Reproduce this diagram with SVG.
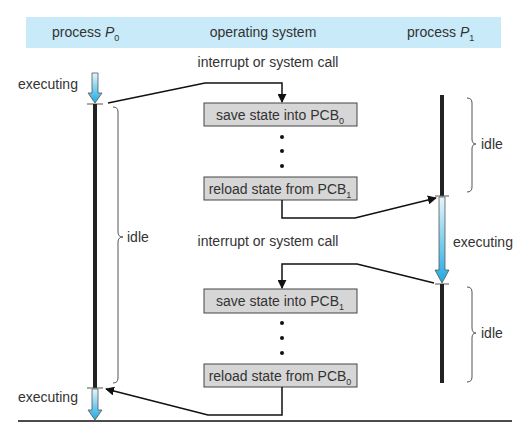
<svg xmlns="http://www.w3.org/2000/svg" width="532" height="434" viewBox="0 0 532 434">
<defs>
<linearGradient id="blue" x1="0" y1="0" x2="0" y2="1">
<stop offset="0" stop-color="#e4f6fd"/>
<stop offset="1" stop-color="#1fa9e1"/>
</linearGradient>
<marker id="ah" viewBox="0 0 10 10" refX="9" refY="5" markerWidth="9" markerHeight="9" markerUnits="userSpaceOnUse" orient="auto">
<path d="M0,0 L10,5 L0,10 z" fill="#111"/>
</marker>
</defs>
<style>
text{font-family:"Liberation Sans",Arial,sans-serif;font-size:14px;fill:#333}
.box{fill:#d6d6d6;stroke:#444;stroke-width:1}
.conn{fill:none;stroke:#111;stroke-width:1.5;marker-end:url(#ah)}
.tl{stroke:#222;stroke-width:4}
.tick{stroke:#555;stroke-width:1}
.brace{fill:none;stroke:#555;stroke-width:1}
.exec{fill:url(#blue);stroke:#555;stroke-width:0.8}
.dot{fill:#111}
</style>
<rect width="532" height="434" fill="#fff"/>
<rect x="26" y="17" width="475" height="31" fill="#c8eaf9"/>
<g id="headers">
<text x="52" y="37">process <tspan font-style="italic">P</tspan><tspan font-size="9" dy="4">0</tspan></text>
<text x="263" y="37" text-anchor="middle">operating system</text>
<text x="407" y="37">process <tspan font-style="italic">P</tspan><tspan font-size="9" dy="4">1</tspan></text>
</g>
<g id="p0">
<text x="18" y="89">executing</text>
<path class="exec" d="M92,73 L98,73 L98,93 L102,93 L95,103 L88,93 L92,93 z"/>
<line class="tick" x1="87" y1="104" x2="103" y2="104"/>
<line class="tl" x1="95" y1="104" x2="95" y2="388"/>
<line class="tick" x1="87" y1="388" x2="103" y2="388"/>
<path class="exec" d="M92,389 L98,389 L98,410 L102,410 L95,420 L88,410 L92,410 z"/>
<text x="18" y="402">executing</text>
<path class="brace" d="M113,107 Q118,107 118,112 L118,232 Q118,237 123,237 Q118,237 118,242 L118,378 Q118,383 113,383"/>
<text x="127" y="242">idle</text>
</g>
<g id="p1">
<line class="tl" x1="442" y1="95" x2="442" y2="196"/>
<line class="tick" x1="435" y1="196" x2="449" y2="196"/>
<path class="exec" d="M439,197 L445,197 L445,270 L449,270 L442,283 L435,270 L439,270 z"/>
<line class="tick" x1="435" y1="284" x2="449" y2="284"/>
<line class="tl" x1="442" y1="284" x2="442" y2="383"/>
<path class="brace" d="M467,98 Q472,98 472,103 L472,139 Q472,144 476,144 Q472,144 472,149 L472,187 Q472,192 467,192"/>
<text x="481" y="149">idle</text>
<text x="453" y="247">executing</text>
<path class="brace" d="M467,287 Q472,287 472,292 L472,328 Q472,333 476,333 Q472,333 472,338 L472,377 Q472,382 467,382"/>
<text x="481" y="338">idle</text>
</g>
<g id="os">
<text x="268" y="67" text-anchor="middle">interrupt or system call</text>
<g id="save0"><rect class="box" x="204" y="103" width="153" height="23"/><text x="280" y="120" text-anchor="middle">save state into PCB<tspan font-size="9" dy="4">0</tspan></text></g>
<circle class="dot" cx="282" cy="137" r="2"/><circle class="dot" cx="282" cy="151" r="2"/><circle class="dot" cx="282" cy="166" r="2"/>
<g id="reload1"><rect class="box" x="204" y="177" width="153" height="23"/><text x="280" y="194" text-anchor="middle">reload state from PCB<tspan font-size="9" dy="4">1</tspan></text></g>
<text x="268" y="246" text-anchor="middle">interrupt or system call</text>
<g id="save1"><rect class="box" x="204" y="289" width="153" height="24"/><text x="280" y="306" text-anchor="middle">save state into PCB<tspan font-size="9" dy="4">1</tspan></text></g>
<circle class="dot" cx="282" cy="323" r="2"/><circle class="dot" cx="282" cy="338" r="2"/><circle class="dot" cx="282" cy="353" r="2"/>
<g id="reload0"><rect class="box" x="204" y="364" width="153" height="23"/><text x="280" y="381" text-anchor="middle">reload state from PCB<tspan font-size="9" dy="4">0</tspan></text></g>
</g>
<g id="connectors">
<polyline class="conn" points="108,103 205,83 282,83 282,102"/>
<polyline class="conn" points="282,200 282,218 355,218 436,198"/>
<polyline class="conn" points="434,283 357,264 282,264 282,288"/>
<polyline class="conn" points="282,387 282,415 208,415 106,389"/>
</g>
<line x1="18" y1="421" x2="512" y2="421" stroke="#111" stroke-width="1.5"/>
</svg>
